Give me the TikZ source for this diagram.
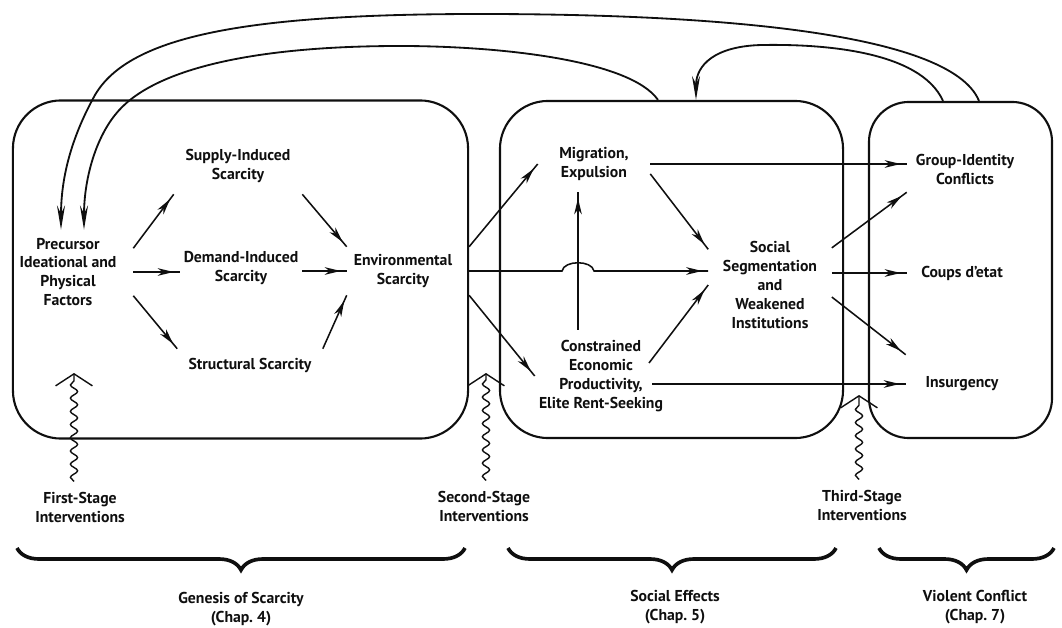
\documentclass[tikz,border=0pt]{standalone}
\usepackage{fontspec}
\setmainfont{PT Sans}
\usetikzlibrary{arrows.meta,calc,decorations.pathmorphing,decorations.pathreplacing,decorations.markings}
\definecolor{ScarInk}{RGB}{15,15,15}
\tikzset{
  scar/box/.style={
    draw=ScarInk,
    line width=1.5pt,
    rounded corners=1.2cm,
    inner sep=0pt
  },
  scar/label/.style={
    align=center,
    text=ScarInk,
    inner sep=0pt,
    font=\fontsize{11.2}{13.5}\selectfont\bfseries
  },
  scar/flow/.style={draw=ScarInk, line width=1.1pt, postaction={decorate},
    decoration={markings, mark=at position -0.15cm with {\arrow{Stealth[length=4mm,width=1.9mm,inset=1.2mm]}}}},
  scar/loop/.style={draw=ScarInk, line width=1.3pt, -{Stealth[length=6mm,width=2mm,inset=2mm]}},
  scar/wavy/.style={draw=ScarInk, line width=1pt, decorate,
    decoration={snake, amplitude=0.09cm, segment length=0.33cm, post length=0.12cm},
    -{Straight Barb[length=0.3cm,width=0.92cm]}},
  scar/brace/.style={draw=ScarInk, line width=2.6pt, decorate, decoration={brace, amplitude=0.55cm}}
}

\begin{document}
\begin{tikzpicture}[x=0.025cm,y=-0.025cm]
  \useasboundingbox (0,0) rectangle (1062,628);
  % the three stages
  \node[scar/box,minimum width=11.375cm,minimum height=8.45cm] (box1) at (240.5,269.5) {};
  \node[scar/box,minimum width=8.575cm,minimum height=8.425cm] (box2) at (671.5,269.5) {};
  \node[scar/box,rounded corners=1cm,minimum width=4.575cm,minimum height=8.4cm] (box3) at (960.5,270) {};

  \node[scar/label,minimum width=3.25cm] (prec) at (68,272) {Precursor\\Ideational and\\Physical\\Factors};
  \node[scar/label,minimum width=3.2cm,minimum height=1.4cm] (supply) at (238,166) {Supply-Induced\\Scarcity};
  \node[scar/label,minimum width=3.05cm] (demand) at (241,268) {Demand-Induced\\Scarcity};
  \node[scar/label,minimum width=2.8cm,minimum height=1.2cm] (env) at (403,271) {Environmental\\Scarcity};
  \node[scar/label,minimum width=3.625cm,minimum height=0.8cm] (struct) at (250,365) {Structural Scarcity};
  \node[scar/label,minimum width=2.8cm,minimum height=1.4cm] (mig) at (594,164) {Migration,\\Expulsion};
  \node[scar/label,minimum width=3.3cm,minimum height=2.3cm] (cons) at (601,376) {Constrained\\Economic\\Productivity,\\Elite Rent-Seeking};
  \node[scar/label,minimum width=3.075cm,minimum height=2.5cm] (social) at (770,285) {Social\\Segmentation\\and\\Weakened\\Institutions};
  \node[scar/label,minimum width=2.9cm,minimum height=1.15cm] (group) at (965,169) {Group-Identity\\Conflicts};
  \node[scar/label,minimum width=2.75cm] (coups) at (962,273) {Coups d'etat};
  \node[scar/label,minimum width=2.8cm,minimum height=1.45cm] (insurg) at (962,384) {Insurgency};

  \node[scar/label] (first) at (80,507) {First-Stage\\Interventions};
  \node[scar/label] (second) at (484,506) {Second-Stage\\Interventions};
  \node[scar/label] (third) at (862,505) {Third-Stage\\Interventions};
  \node[scar/label] (genesis) at (241,609) {Genesis of Scarcity\\(Chap.~4)};
  \node[scar/label] (effects) at (675,607) {Social Effects\\(Chap.~5)};
  \node[scar/label] (violent) at (975,607) {Violent Conflict\\(Chap.~7)};

  \coordinate (firstTip) at (74,373);
  \coordinate (secondTip) at (486,373);
  \coordinate (thirdTip) at (859,395);
  \coordinate (vfoot) at ($(cons.north)+(-23,0)$);

  % genesis of scarcity
  \draw[scar/flow] (prec.20) -- (supply.south west);
  \draw[scar/flow] (supply.south east) -- (env.north west);
  \draw[scar/flow] (prec.east) -- (prec.east -| demand.west);
  \draw[scar/flow] (demand.east |- env.west) -- (env.west);
  \draw[scar/flow] (prec.-20) -- (struct.north west);
  \draw[scar/flow] (struct.north east) -- (env.south west);

  % social effects
  \draw[scar/flow] (env.north -| box1.east) -- (mig.west);
  \draw[scar/flow] (env.east -| box1.east) -- ($(vfoot |- env.east)+(-16,0)$)
    .. controls +(2,-11) and +(-2,-11) .. ($(vfoot |- env.east)+(16,0)$) -- (social.west |- env.east);
  \draw[scar/flow] (env.south -| box1.east) -- (cons.west);
  \draw[scar/flow] (vfoot) -- (vfoot |- mig.south);
  \draw[scar/flow] (mig.-10) -- (social.150);
  \draw[scar/flow] ($(cons.center)+(48,-13)$) -- (social.west);

  % violent conflict
  \draw[scar/flow] (mig.east) -- (mig.east -| group.west);
  \draw[scar/flow] (social.31) -- (group.south west);
  \draw[scar/flow] (social.east |- coups.west) -- (coups.west);
  \draw[scar/flow] (social.-11) -- (insurg.north west);
  \draw[scar/flow] ($(cons.east |- insurg.west)+(-15,0)$) -- (insurg.west);

  % feedback loops
  \draw[scar/loop] ($(box3.north)+(18.5,0)$) .. controls (950,30) and (700,14) .. (480,14)
    .. controls (250,14) and (130,35) .. (95,95) .. controls (70,140) and (61,180) .. ($(prec.north)+(-7,-8)$);
  \draw[scar/loop] ($(box2.north)+(-13.5,0)$) .. controls (630,60) and (500,46) .. (400,46)
    .. controls (250,46) and (150,70) .. (115,115) .. controls (95,140) and (84,180) .. ($(prec.north)+(16,-8)$);
  \draw[scar/loop] ($(box3.north)+(-17.5,0)$) .. controls (920,50) and (820,44) .. (762,45)
    .. controls (715,46) and (696,65) .. ($(box2.north)+(24.5,0)$);

  % interventions
  \draw[scar/wavy] ($(firstTip |- first.north)+(0,-10)$) -- (firstTip);
  \draw[scar/wavy] ($(secondTip |- second.north)+(0,-10)$) -- (secondTip);
  \draw[scar/wavy] ($(thirdTip |- third.north)+(0,-10)$) -- (thirdTip);

  % chapters
  \draw[scar/brace] (465,548) -- (17,548);
  \draw[scar/brace] (836,548) -- (508,548);
  \draw[scar/brace] (1054,548) -- (879,548);
\end{tikzpicture}
\end{document}
